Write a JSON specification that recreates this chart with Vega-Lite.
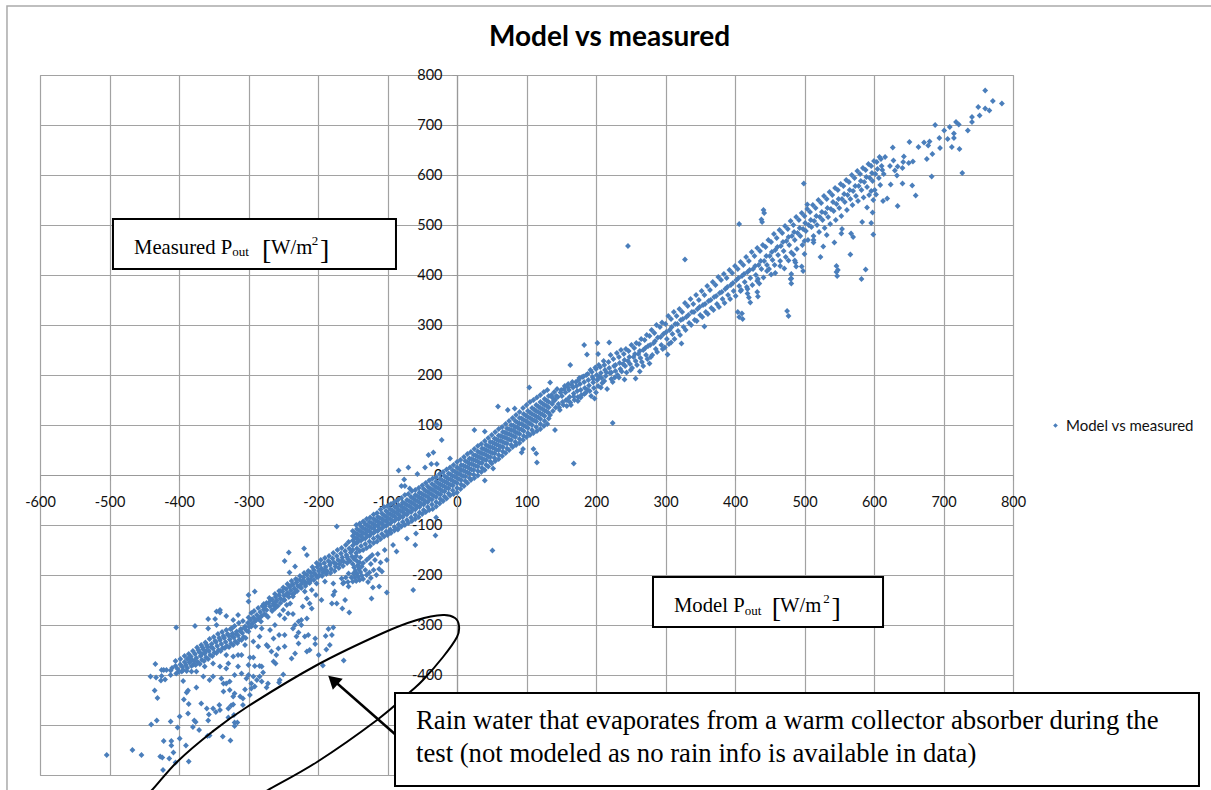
{"$schema":"https://vega.github.io/schema/vega-lite/v6.json","autosize":"none","width":973,"height":700,"padding":{"left":40,"top":75,"right":198,"bottom":15},"background":"white","config":{"view":{"stroke":"#a0a0a0"}},"title":{"text":"Model vs measured","font":"Lato","fontSize":28,"fontWeight":"bold","color":"#000000","anchor":"start","frame":"group","dx":449,"offset":0,"dy":47},
"layer":[
{"data":{"values":[{"x":-647.5,"x2":1100,"y":938,"y2":-660}]},"mark":{"type":"rect","fill":null,"stroke":"#aaaaaa","strokeWidth":1.5},"encoding":{"x":{"field":"x","type":"quantitative","title":null,"scale":{"domain":[-600,800],"nice":false,"zero":false},"axis":{"values":[-600,-500,-400,-300,-200,-100,0,100,200,300,400,500,600,700,800],"labelExpr":"'' + datum.value","offset":-300,"labelFont":"Lato","labelFontSize":14.5,"labelColor":"#111111","labelPadding":15,"labelFlush":false,"labelOverlap":false,"tickColor":"#999999","tickSize":5,"domainColor":"#999999","domainWidth":1.2,"grid":true,"gridColor":"#a2a2a2","gridWidth":1.2}},"x2":{"field":"x2"},"y":{"field":"y","type":"quantitative","title":null,"scale":{"domain":[-600,800],"nice":false,"zero":false},"axis":{"values":[-600,-500,-400,-300,-200,-100,0,100,200,300,400,500,600,700,800],"labelExpr":"'' + datum.value","offset":-417,"labelFont":"Lato","labelFontSize":14.5,"labelColor":"#111111","labelPadding":10,"labelOverlap":false,"tickColor":"#999999","tickSize":5,"domainColor":"#999999","domainWidth":1.2,"grid":true,"gridColor":"#a2a2a2","gridWidth":1.2}},"y2":{"field":"y2"}}},
{"data":{"values":[
{"x":-504,"y":-560},{"x":-467,"y":-550},{"x":-454,"y":-560},{"x":-423,"y":-590},{"x":-427,"y":-563},{"x":-424,"y":-565},{"x":-414,"y":-567},{"x":-408,"y":-555},{"x":-405,"y":-575},{"x":-386,"y":-573},{"x":-422,"y":-532},{"x":-411,"y":-532},{"x":-411,"y":-541},{"x":-399,"y":-527},{"x":-390,"y":-541},{"x":-440,"y":-499},{"x":-432,"y":-491},{"x":-412,"y":-493},{"x":-402,"y":-505},{"x":-399,"y":-483},{"x":-387,"y":-477},{"x":-380,"y":-504},{"x":-378,"y":-491},{"x":-376,"y":-494},{"x":-371,"y":-510},{"x":-359,"y":-522},{"x":-356,"y":-521},{"x":-337,"y":-523},{"x":-326,"y":-531},{"x":-358,"y":-491},{"x":-357,"y":-479},{"x":-360,"y":-467},{"x":-368,"y":-457},{"x":-351,"y":-467},{"x":-347,"y":-474},{"x":-342,"y":-460},{"x":-341,"y":-470},{"x":-329,"y":-467},{"x":-325,"y":-461},{"x":-322,"y":-459},{"x":-308,"y":-460},{"x":-321,"y":-480},{"x":-329,"y":-485},{"x":-320,"y":-495},{"x":-316,"y":-495},{"x":-320,"y":-502},{"x":-393,"y":-449},{"x":-386,"y":-458},{"x":-431,"y":-446},{"x":-435,"y":-431},{"x":-389,"y":-435},{"x":-387,"y":-431},{"x":-375,"y":-425},{"x":-394,"y":-412},{"x":-441,"y":-403},{"x":-433,"y":-405},{"x":-425,"y":-402},{"x":-426,"y":-411},{"x":-420,"y":-409},{"x":-434,"y":-378},{"x":-425,"y":-390},{"x":-422,"y":-390},{"x":-418,"y":-390},{"x":-412,"y":-391},{"x":-412,"y":-400},{"x":-404,"y":-305},{"x":-377,"y":-302},{"x":-358,"y":-288},{"x":-341,"y":-270},{"x":-346,"y":-273},{"x":-341,"y":-275},{"x":-348,"y":-288},{"x":-346,"y":-300},{"x":-358,"y":-307},{"x":-332,"y":-282},{"x":-322,"y":-290},{"x":-315,"y":-280},{"x":-324,"y":-307},
{"x":-242,"y":-155},{"x":-248,"y":-172},{"x":-220,"y":-147},{"x":-216,"y":-160},{"x":-233,"y":-183},{"x":-241,"y":-195},{"x":-300,"y":-240},{"x":-291,"y":-233},{"x":-300,"y":-253},{"x":-202,"y":-217},{"x":-190,"y":-213},{"x":-178,"y":-217},{"x":-176,"y":-233},{"x":-178,"y":-240},{"x":-180,"y":-257},{"x":-173,"y":-257},{"x":-161,"y":-250},{"x":-165,"y":-267},{"x":-155,"y":-275},{"x":-195,"y":-250},{"x":-203,"y":-240},{"x":-209,"y":-230},{"x":-219,"y":-233},{"x":-216,"y":-247},{"x":-212,"y":-257},{"x":-222,"y":-263},{"x":-209,"y":-267},{"x":-236,"y":-243},{"x":-240,"y":-257},{"x":-245,"y":-260},{"x":-236,"y":-278},{"x":-243,"y":-277},{"x":-250,"y":-270},{"x":-255,"y":-280},{"x":-248,"y":-287},{"x":-262,"y":-267},{"x":-264,"y":-260},{"x":-216,"y":-287},{"x":-224,"y":-290},{"x":-228,"y":-293},{"x":-233,"y":-300},{"x":-236,"y":-307},{"x":-224,"y":-300},{"x":-228,"y":-315},{"x":-231,"y":-323},{"x":-219,"y":-323},{"x":-214,"y":-320},{"x":-204,"y":-327},{"x":-204,"y":-338},{"x":-228,"y":-337},{"x":-216,"y":-353},{"x":-212,"y":-350},{"x":-238,"y":-367},{"x":-233,"y":-357},{"x":-248,"y":-343},{"x":-257,"y":-347},{"x":-267,"y":-353},{"x":-260,"y":-360},{"x":-264,"y":-373},{"x":-261,"y":-377},{"x":-248,"y":-320},{"x":-256,"y":-320},{"x":-264,"y":-327},{"x":-269,"y":-310},{"x":-262,"y":-300},{"x":-281,"y":-307},{"x":-284,"y":-323},{"x":-293,"y":-333},{"x":-286,"y":-343},{"x":-274,"y":-340},{"x":-272,"y":-343},{"x":-296,"y":-303},{"x":-300,"y":-313},{"x":-305,"y":-340},{"x":-185,"y":-308},{"x":-178,"y":-305},{"x":-189,"y":-322},{"x":-180,"y":-320},{"x":-183,"y":-340},{"x":-188,"y":-349},{"x":-199,"y":-360},{"x":-193,"y":-381},{"x":-163,"y":-371},{"x":-250,"y":-399},{"x":-255,"y":-410},{"x":-256,"y":-415},{"x":-274,"y":-425},{"x":-272,"y":-417},{"x":-281,"y":-383},{"x":-279,"y":-395},{"x":-284,"y":-403},{"x":-281,"y":-413},{"x":-288,"y":-410},{"x":-291,"y":-423},{"x":-296,"y":-427},{"x":-296,"y":-417},{"x":-293,"y":-403},{"x":-300,"y":-400},{"x":-310,"y":-397},{"x":-303,"y":-407},{"x":-300,"y":-380},{"x":-291,"y":-382},{"x":-284,"y":-382},{"x":-298,"y":-365},{"x":-293,"y":-365},{"x":-310,"y":-360},{"x":-315,"y":-360},{"x":-322,"y":-363},{"x":-332,"y":-360},{"x":-329,"y":-377},{"x":-332,"y":-387},{"x":-320,"y":-400},{"x":-315,"y":-383},{"x":-341,"y":-383},{"x":-351,"y":-377},{"x":-363,"y":-383},{"x":-365,"y":-403},{"x":-356,"y":-410},{"x":-351,"y":-403},{"x":-339,"y":-407},{"x":-336,"y":-417},{"x":-332,"y":-417},{"x":-327,"y":-413},{"x":-336,"y":-433},{"x":-327,"y":-430},{"x":-320,"y":-437},{"x":-312,"y":-443},{"x":-308,"y":-447},{"x":-298,"y":-440},{"x":-305,"y":-429},{"x":-322,"y":-443},{"x":-382,"y":-393},{"x":-375,"y":-393},{"x":-396,"y":-393},{"x":-389,"y":-392},{"x":-404,"y":-397},
{"x":-410,"y":-386},{"x":-405,"y":-382},{"x":-402,"y":-388},{"x":-398,"y":-379},{"x":-395,"y":-384},{"x":-392,"y":-374},{"x":-390,"y":-380},{"x":-388,"y":-368},{"x":-385,"y":-375},{"x":-383,"y":-363},{"x":-381,"y":-370},{"x":-379,"y":-379},{"x":-377,"y":-358},{"x":-375,"y":-366},{"x":-373,"y":-374},{"x":-371,"y":-354},{"x":-369,"y":-362},{"x":-367,"y":-370},{"x":-365,"y":-349},{"x":-363,"y":-357},{"x":-361,"y":-365},{"x":-359,"y":-344},{"x":-357,"y":-352},{"x":-355,"y":-360},{"x":-353,"y":-338},{"x":-351,"y":-347},{"x":-349,"y":-355},{"x":-347,"y":-334},{"x":-345,"y":-342},{"x":-343,"y":-350},{"x":-341,"y":-330},{"x":-339,"y":-338},{"x":-337,"y":-346},{"x":-335,"y":-326},{"x":-333,"y":-334},{"x":-331,"y":-342},{"x":-329,"y":-321},{"x":-327,"y":-329},{"x":-325,"y":-337},{"x":-323,"y":-317},{"x":-321,"y":-325},{"x":-319,"y":-333},{"x":-317,"y":-313},{"x":-315,"y":-321},{"x":-313,"y":-329},{"x":-311,"y":-308},{"x":-309,"y":-316},{"x":-307,"y":-324},{"x":-305,"y":-303},{"x":-303,"y":-311},{"x":-301,"y":-296},{"x":-299,"y":-304},{"x":-297,"y":-290},{"x":-295,"y":-298},{"x":-293,"y":-285},{"x":-291,"y":-293},{"x":-288,"y":-280},{"x":-286,"y":-288},{"x":-283,"y":-274},{"x":-281,"y":-282},{"x":-278,"y":-269},{"x":-276,"y":-262},{"x":-274,"y":-270},{"x":-271,"y":-256},{"x":-269,"y":-263},{"x":-266,"y":-249},{"x":-264,"y":-257},{"x":-261,"y":-244},{"x":-259,"y":-251},{"x":-256,"y":-240},{"x":-254,"y":-247},{"x":-251,"y":-233},{"x":-249,"y":-241},{"x":-246,"y":-228},{"x":-244,"y":-236},{"x":-241,"y":-224},{"x":-239,"y":-231},{"x":-236,"y":-219},{"x":-234,"y":-227},{"x":-231,"y":-215},{"x":-229,"y":-222},{"x":-226,"y":-210},{"x":-224,"y":-218},{"x":-221,"y":-205},{"x":-219,"y":-213},{"x":-216,"y":-200},{"x":-214,"y":-208},{"x":-211,"y":-195},{"x":-209,"y":-203},{"x":-206,"y":-190},{"x":-204,"y":-198},{"x":-201,"y":-184},{"x":-199,"y":-192},{"x":-197,"y":-179},{"x":-195,"y":-187},{"x":-193,"y":-195},{"x":-191,"y":-176},{"x":-189,"y":-184},{"x":-187,"y":-192},{"x":-185,"y":-172},{"x":-183,"y":-180},{"x":-181,"y":-188},{"x":-179,"y":-167},{"x":-177,"y":-175},{"x":-175,"y":-183},{"x":-173,"y":-162},{"x":-171,"y":-170},{"x":-169,"y":-178},{"x":-167,"y":-157},{"x":-165,"y":-165},{"x":-163,"y":-173},{"x":-161,"y":-152},{"x":-159,"y":-160},{"x":-157,"y":-168},{"x":-155,"y":-147},{"x":-153,"y":-155},{"x":-151,"y":-163},
{"x":-148,"y":-168},{"x":-150,"y":-178},{"x":-145,"y":-162},{"x":-144,"y":-172},{"x":-148,"y":-185},{"x":-143,"y":-181},{"x":-139,"y":-165},{"x":-140,"y":-175},{"x":-146,"y":-192},{"x":-141,"y":-188},{"x":-137,"y":-183},{"x":-149,"y":-197},{"x":-144,"y":-198},{"x":-139,"y":-194},{"x":-135,"y":-176},{"x":-152,"y":-205},{"x":-147,"y":-205},{"x":-142,"y":-204},{"x":-137,"y":-201},{"x":-132,"y":-190},{"x":-150,"y":-213},{"x":-145,"y":-212},{"x":-140,"y":-210},{"x":-135,"y":-208},{"x":-130,"y":-200},{"x":-156,"y":-197},{"x":-160,"y":-205},{"x":-157,"y":-214},{"x":-163,"y":-215},{"x":-166,"y":-207},{"x":-164,"y":-217},{"x":-156,"y":-223},{"x":-126,"y":-195},{"x":-124,"y":-206},{"x":-128,"y":-214},{"x":-120,"y":-190},{"x":-116,"y":-200},{"x":-112,"y":-188},{"x":-130,"y":-170},{"x":-126,"y":-165},{"x":-122,"y":-160},{"x":-118,"y":-170},{"x":-114,"y":-158},{"x":-124,"y":-178},{"x":-110,"y":-175},{"x":-108,"y":-193},{"x":-63,"y":-230},{"x":-101,"y":-235},{"x":-123,"y":-247},{"x":-121,"y":-225},{"x":-112,"y":-223},{"x":-87,"y":-153},{"x":-92,"y":-140},{"x":-60,"y":-140},
{"x":-29,"y":100},{"x":-22,"y":70},{"x":-41,"y":40},{"x":-34,"y":45},{"x":-46,"y":15},{"x":-37,"y":22},{"x":-29,"y":22},{"x":-84,"y":9},{"x":-70,"y":15},{"x":-57,"y":2},{"x":-76,"y":-9},{"x":-80,"y":-22},{"x":-75,"y":-22},{"x":-68,"y":-27},{"x":-10,"y":33},{"x":25,"y":90},{"x":40,"y":87},{"x":59,"y":137},{"x":73,"y":130},{"x":83,"y":133},{"x":104,"y":175},{"x":134,"y":185},{"x":52,"y":13},{"x":40,"y":-11},{"x":93,"y":45},{"x":110,"y":52},{"x":114,"y":43},{"x":115,"y":25},{"x":95,"y":52},{"x":168,"y":23},{"x":141,"y":90},{"x":51,"y":-151},{"x":-31,"y":-121},{"x":-30,"y":-85},{"x":-59,"y":-117},{"x":-72,"y":-127},{"x":-85,"y":-109},{"x":-97,"y":-113},{"x":-173,"y":-103},{"x":-104,"y":-150},{"x":-101,"y":-170},
{"x":-150,"y":-112},{"x":-150,"y":-122},{"x":-150,"y":-131},{"x":-150,"y":-141},{"x":-150,"y":-150},{"x":-144,"y":-108},{"x":-144,"y":-118},{"x":-144,"y":-127},{"x":-144,"y":-136},{"x":-144,"y":-147},{"x":-138,"y":-103},{"x":-138,"y":-113},{"x":-138,"y":-122},{"x":-138,"y":-131},{"x":-138,"y":-142},{"x":-132,"y":-98},{"x":-132,"y":-108},{"x":-132,"y":-117},{"x":-132,"y":-127},{"x":-132,"y":-138},{"x":-126,"y":-94},{"x":-126,"y":-104},{"x":-126,"y":-113},{"x":-126,"y":-122},{"x":-126,"y":-133},{"x":-120,"y":-88},{"x":-120,"y":-98},{"x":-120,"y":-107},{"x":-120,"y":-116},{"x":-120,"y":-127},{"x":-114,"y":-84},{"x":-114,"y":-93},{"x":-114,"y":-102},{"x":-114,"y":-112},{"x":-114,"y":-123},{"x":-108,"y":-77},{"x":-108,"y":-88},{"x":-108,"y":-97},{"x":-108,"y":-107},{"x":-108,"y":-118},{"x":-102,"y":-72},{"x":-102,"y":-83},{"x":-102,"y":-92},{"x":-102,"y":-102},{"x":-102,"y":-113},{"x":-96,"y":-68},{"x":-96,"y":-78},{"x":-96,"y":-88},{"x":-96,"y":-97},{"x":-96,"y":-109},{"x":-90,"y":-63},{"x":-90,"y":-74},{"x":-90,"y":-83},{"x":-90,"y":-92},{"x":-90,"y":-104},{"x":-84,"y":-60},{"x":-84,"y":-70},{"x":-84,"y":-79},{"x":-84,"y":-88},{"x":-84,"y":-99},{"x":-78,"y":-55},{"x":-78,"y":-65},{"x":-78,"y":-74},{"x":-78,"y":-84},{"x":-78,"y":-94},{"x":-72,"y":-50},{"x":-72,"y":-60},{"x":-72,"y":-70},{"x":-72,"y":-79},{"x":-72,"y":-90},{"x":-66,"y":-44},{"x":-66,"y":-55},{"x":-66,"y":-65},{"x":-66,"y":-74},{"x":-66,"y":-85},{"x":-60,"y":-40},{"x":-60,"y":-50},{"x":-60,"y":-60},{"x":-60,"y":-69},{"x":-60,"y":-80},{"x":-54,"y":-35},{"x":-54,"y":-45},{"x":-54,"y":-55},{"x":-54,"y":-64},{"x":-54,"y":-75},{"x":-48,"y":-28},{"x":-48,"y":-40},{"x":-48,"y":-50},{"x":-48,"y":-59},{"x":-48,"y":-70},{"x":-42,"y":-23},{"x":-42,"y":-34},{"x":-42,"y":-44},{"x":-42,"y":-54},{"x":-42,"y":-64},{"x":-36,"y":-18},{"x":-36,"y":-29},{"x":-36,"y":-39},{"x":-36,"y":-49},{"x":-36,"y":-59},{"x":-30,"y":-13},{"x":-30,"y":-24},{"x":-30,"y":-34},{"x":-30,"y":-44},{"x":-30,"y":-54},{"x":-24,"y":-8},{"x":-24,"y":-19},{"x":-24,"y":-29},{"x":-24,"y":-39},{"x":-24,"y":-48},{"x":-18,"y":-2},{"x":-18,"y":-13},{"x":-18,"y":-23},{"x":-18,"y":-33},{"x":-18,"y":-43},{"x":-12,"y":3},{"x":-12,"y":-8},{"x":-12,"y":-18},{"x":-12,"y":-27},{"x":-12,"y":-37},{"x":-6,"y":9},{"x":-6,"y":-2},{"x":-6,"y":-12},{"x":-6,"y":-21},{"x":-6,"y":-31},{"x":0,"y":15},{"x":0,"y":4},{"x":0,"y":-6},{"x":0,"y":-16},{"x":0,"y":-26},{"x":6,"y":20},{"x":6,"y":10},{"x":6,"y":0},{"x":6,"y":-10},{"x":6,"y":-19},{"x":12,"y":28},{"x":12,"y":17},{"x":12,"y":7},{"x":12,"y":-3},{"x":12,"y":-12},{"x":18,"y":33},{"x":18,"y":23},{"x":18,"y":13},{"x":18,"y":3},{"x":18,"y":-6},{"x":24,"y":40},{"x":24,"y":30},{"x":24,"y":20},{"x":24,"y":10},{"x":24,"y":1},{"x":30,"y":47},{"x":30,"y":37},{"x":30,"y":27},{"x":30,"y":17},{"x":30,"y":8},{"x":36,"y":53},{"x":36,"y":43},{"x":36,"y":33},{"x":36,"y":24},{"x":36,"y":14},{"x":42,"y":60},{"x":42,"y":50},{"x":42,"y":40},{"x":42,"y":30},{"x":42,"y":20},{"x":48,"y":66},{"x":48,"y":56},{"x":48,"y":46},{"x":48,"y":36},{"x":48,"y":27},{"x":54,"y":73},{"x":54,"y":63},{"x":54,"y":53},{"x":54,"y":43},{"x":54,"y":34},{"x":60,"y":79},{"x":60,"y":69},{"x":60,"y":59},{"x":60,"y":50},{"x":60,"y":40},{"x":66,"y":86},{"x":66,"y":76},{"x":66,"y":66},{"x":66,"y":56},{"x":66,"y":47},{"x":72,"y":93},{"x":72,"y":83},{"x":72,"y":73},{"x":72,"y":63},{"x":72,"y":53},{"x":78,"y":100},{"x":78,"y":90},{"x":78,"y":80},{"x":78,"y":70},{"x":78,"y":60},{"x":84,"y":108},{"x":84,"y":96},{"x":84,"y":86},{"x":84,"y":76},{"x":84,"y":66},{"x":90,"y":114},{"x":90,"y":103},{"x":90,"y":92},{"x":90,"y":82},{"x":90,"y":72},{"x":96,"y":122},{"x":96,"y":110},{"x":96,"y":99},{"x":96,"y":88},{"x":96,"y":78},{"x":102,"y":128},{"x":102,"y":116},{"x":102,"y":105},{"x":102,"y":94},{"x":102,"y":84},{"x":108,"y":134},{"x":108,"y":122},{"x":108,"y":111},{"x":108,"y":100},{"x":108,"y":90},{"x":114,"y":140},{"x":114,"y":128},{"x":114,"y":117},{"x":114,"y":107},{"x":114,"y":96},{"x":120,"y":146},{"x":120,"y":134},{"x":120,"y":123},{"x":120,"y":112},{"x":120,"y":102},{"x":126,"y":152},{"x":126,"y":140},{"x":126,"y":129},{"x":126,"y":118},{"x":126,"y":108},{"x":132,"y":158},{"x":132,"y":146},{"x":132,"y":135},{"x":132,"y":124},{"x":132,"y":113},
{"x":-147,"y":-116},{"x":-147,"y":-126},{"x":-147,"y":-136},{"x":-141,"y":-111},{"x":-141,"y":-121},{"x":-141,"y":-131},{"x":-135,"y":-106},{"x":-135,"y":-116},{"x":-135,"y":-127},{"x":-129,"y":-101},{"x":-129,"y":-111},{"x":-129,"y":-122},{"x":-123,"y":-96},{"x":-123,"y":-106},{"x":-123,"y":-117},{"x":-117,"y":-91},{"x":-117,"y":-101},{"x":-117,"y":-112},{"x":-111,"y":-86},{"x":-111,"y":-96},{"x":-111,"y":-107},{"x":-105,"y":-81},{"x":-105,"y":-91},{"x":-105,"y":-102},{"x":-99,"y":-76},{"x":-99,"y":-86},{"x":-99,"y":-97},{"x":-93,"y":-71},{"x":-93,"y":-81},{"x":-93,"y":-92},{"x":-87,"y":-66},{"x":-87,"y":-76},{"x":-87,"y":-87},{"x":-81,"y":-62},{"x":-81,"y":-72},{"x":-81,"y":-83},{"x":-75,"y":-57},{"x":-75,"y":-67},{"x":-75,"y":-78},{"x":-69,"y":-52},{"x":-69,"y":-62},{"x":-69,"y":-73},{"x":-63,"y":-47},{"x":-63,"y":-57},{"x":-63,"y":-68},{"x":-57,"y":-42},{"x":-57,"y":-52},{"x":-57,"y":-63},{"x":-51,"y":-37},{"x":-51,"y":-47},{"x":-51,"y":-58},{"x":-45,"y":-32},{"x":-45,"y":-42},{"x":-45,"y":-53},{"x":-39,"y":-27},{"x":-39,"y":-37},{"x":-39,"y":-48},{"x":-33,"y":-21},{"x":-33,"y":-31},{"x":-33,"y":-42},{"x":-27,"y":-16},{"x":-27,"y":-26},{"x":-27,"y":-37},{"x":-21,"y":-11},{"x":-21,"y":-21},{"x":-21,"y":-32},{"x":-15,"y":-5},{"x":-15,"y":-15},{"x":-15,"y":-26},{"x":-9,"y":1},{"x":-9,"y":-9},{"x":-9,"y":-20},{"x":-3,"y":7},{"x":-3,"y":-3},{"x":-3,"y":-14},{"x":3,"y":13},{"x":3,"y":3},{"x":3,"y":-8},{"x":9,"y":19},{"x":9,"y":9},{"x":9,"y":-2},{"x":15,"y":26},{"x":15,"y":16},{"x":15,"y":5},{"x":21,"y":32},{"x":21,"y":22},{"x":21,"y":11},{"x":27,"y":39},{"x":27,"y":29},{"x":27,"y":18},{"x":33,"y":45},{"x":33,"y":35},{"x":33,"y":24},{"x":39,"y":52},{"x":39,"y":42},{"x":39,"y":31},{"x":45,"y":58},{"x":45,"y":48},{"x":45,"y":37},{"x":51,"y":65},{"x":51,"y":55},{"x":51,"y":44},{"x":57,"y":71},{"x":57,"y":61},{"x":57,"y":50},{"x":63,"y":78},{"x":63,"y":68},{"x":63,"y":57},{"x":69,"y":85},{"x":69,"y":75},{"x":69,"y":64},{"x":75,"y":92},{"x":75,"y":82},{"x":75,"y":71},{"x":81,"y":99},{"x":81,"y":89},{"x":81,"y":78},{"x":87,"y":105},{"x":87,"y":95},{"x":87,"y":84},{"x":93,"y":113},{"x":93,"y":102},{"x":93,"y":91},{"x":99,"y":119},{"x":99,"y":108},{"x":99,"y":97},{"x":105,"y":125},{"x":105,"y":114},{"x":105,"y":103},{"x":111,"y":131},{"x":111,"y":120},{"x":111,"y":109},{"x":117,"y":137},{"x":117,"y":126},{"x":117,"y":115},{"x":123,"y":143},{"x":123,"y":132},{"x":123,"y":121},{"x":129,"y":149},{"x":129,"y":138},{"x":129,"y":127},
{"x":136,"y":160},{"x":137,"y":142},{"x":138,"y":128},{"x":140,"y":166},{"x":141,"y":150},{"x":142,"y":135},{"x":144,"y":172},{"x":145,"y":156},{"x":146,"y":142},{"x":148,"y":130},{"x":150,"y":170},{"x":151,"y":158},{"x":152,"y":146},{"x":155,"y":178},{"x":156,"y":165},{"x":157,"y":150},{"x":158,"y":138},{"x":160,"y":182},{"x":161,"y":170},{"x":162,"y":156},{"x":163,"y":145},{"x":166,"y":186},{"x":167,"y":175},{"x":168,"y":163},{"x":169,"y":150},{"x":172,"y":178},{"x":173,"y":168},{"x":174,"y":156},{"x":176,"y":194},{"x":177,"y":182},{"x":178,"y":170},{"x":179,"y":160},{"x":182,"y":197},{"x":183,"y":186},{"x":184,"y":174},{"x":185,"y":164},{"x":188,"y":202},{"x":189,"y":190},{"x":190,"y":179},{"x":191,"y":168},{"x":194,"y":206},{"x":195,"y":196},{"x":196,"y":185},{"x":197,"y":174},{"x":200,"y":212},{"x":201,"y":200},{"x":202,"y":190},{"x":203,"y":178},{"x":198,"y":153},{"x":206,"y":216},{"x":207,"y":204},{"x":208,"y":194},{"x":209,"y":184},{"x":212,"y":220},{"x":213,"y":210},{"x":214,"y":198},{"x":218,"y":226},{"x":219,"y":214},{"x":220,"y":204},{"x":222,"y":192},{"x":225,"y":232},{"x":226,"y":218},{"x":227,"y":195},{"x":228,"y":208},{"x":233,"y":195},{"x":233,"y":236},{"x":234,"y":224},{"x":235,"y":212},{"x":241,"y":191},{"x":240,"y":242},{"x":241,"y":230},{"x":242,"y":218},{"x":247,"y":248},{"x":248,"y":236},{"x":249,"y":222},{"x":250,"y":210},{"x":255,"y":254},{"x":256,"y":242},{"x":257,"y":228},{"x":257,"y":193},{"x":262,"y":262},{"x":263,"y":248},{"x":264,"y":234},{"x":263,"y":207},{"x":270,"y":270},{"x":271,"y":254},{"x":272,"y":240},{"x":268,"y":218},{"x":277,"y":278},{"x":278,"y":260},{"x":279,"y":236},{"x":277,"y":223},{"x":284,"y":284},{"x":285,"y":268},{"x":286,"y":252},{"x":292,"y":296},{"x":293,"y":276},{"x":294,"y":260},{"x":299,"y":255},{"x":300,"y":302},{"x":301,"y":286},{"x":302,"y":272},{"x":303,"y":241},{"x":308,"y":265},{"x":308,"y":312},{"x":309,"y":296},{"x":310,"y":282},{"x":316,"y":318},{"x":317,"y":302},{"x":318,"y":288},{"x":323,"y":263},{"x":324,"y":326},{"x":325,"y":312},{"x":326,"y":296},{"x":332,"y":338},{"x":333,"y":320},{"x":334,"y":304},{"x":340,"y":342},{"x":341,"y":326},{"x":342,"y":310},{"x":348,"y":350},{"x":349,"y":336},{"x":350,"y":320},{"x":356,"y":297},{"x":356,"y":360},{"x":357,"y":342},{"x":358,"y":326},{"x":364,"y":370},{"x":365,"y":350},{"x":366,"y":334},{"x":372,"y":380},{"x":373,"y":358},{"x":374,"y":342},{"x":380,"y":390},{"x":381,"y":366},{"x":382,"y":352},{"x":388,"y":394},{"x":389,"y":376},{"x":390,"y":360},{"x":396,"y":404},{"x":397,"y":384},{"x":398,"y":368},{"x":404,"y":412},{"x":405,"y":394},{"x":406,"y":378},{"x":412,"y":420},{"x":413,"y":402},{"x":414,"y":386},{"x":420,"y":355},{"x":420,"y":428},{"x":421,"y":410},{"x":422,"y":394},{"x":428,"y":438},{"x":429,"y":418},{"x":430,"y":400},{"x":436,"y":448},{"x":437,"y":428},{"x":438,"y":412},{"x":444,"y":456},{"x":445,"y":438},{"x":446,"y":420},{"x":452,"y":466},{"x":453,"y":446},{"x":454,"y":430},{"x":460,"y":474},{"x":461,"y":456},{"x":462,"y":440},{"x":468,"y":484},{"x":469,"y":466},{"x":470,"y":448},{"x":476,"y":492},{"x":477,"y":476},{"x":478,"y":460},{"x":484,"y":500},{"x":485,"y":486},{"x":486,"y":470},{"x":492,"y":510},{"x":493,"y":494},{"x":494,"y":478},{"x":500,"y":518},{"x":501,"y":504},{"x":502,"y":488},{"x":508,"y":526},{"x":509,"y":510},{"x":510,"y":496},{"x":516,"y":534},{"x":517,"y":518},{"x":518,"y":500},{"x":524,"y":544},{"x":525,"y":526},{"x":526,"y":510},{"x":532,"y":552},{"x":533,"y":534},{"x":534,"y":516},{"x":540,"y":560},{"x":541,"y":546},{"x":542,"y":528},{"x":548,"y":570},{"x":549,"y":552},{"x":550,"y":534},{"x":556,"y":578},{"x":557,"y":562},{"x":558,"y":546},{"x":564,"y":586},{"x":565,"y":570},{"x":566,"y":552},{"x":572,"y":594},{"x":573,"y":578},{"x":574,"y":558},{"x":580,"y":602},{"x":581,"y":588},{"x":582,"y":570},{"x":588,"y":610},{"x":589,"y":596},{"x":590,"y":576},{"x":596,"y":618},{"x":597,"y":604},{"x":598,"y":588},{"x":604,"y":626},{"x":605,"y":612},{"x":610,"y":632},{"x":611,"y":618},{"x":616,"y":636},
{"x":760,"y":769},{"x":771,"y":748},{"x":784,"y":743},{"x":750,"y":736},{"x":760,"y":733},{"x":766,"y":729},{"x":752,"y":719},{"x":741,"y":716},{"x":741,"y":706},{"x":718,"y":706},{"x":722,"y":701},{"x":688,"y":700},{"x":709,"y":696},{"x":701,"y":689},{"x":735,"y":689},{"x":715,"y":683},{"x":694,"y":674},{"x":715,"y":674},{"x":706,"y":672},{"x":680,"y":667},{"x":672,"y":665},{"x":651,"y":666},{"x":664,"y":656},{"x":678,"y":659},{"x":695,"y":654},{"x":712,"y":656},{"x":723,"y":652},{"x":684,"y":642},{"x":676,"y":632},{"x":727,"y":604},{"x":683,"y":597},{"x":627,"y":655},{"x":643,"y":637},{"x":642,"y":626},{"x":656,"y":627},{"x":650,"y":624},{"x":641,"y":614},{"x":634,"y":617},{"x":623,"y":618},{"x":628,"y":629},{"x":630,"y":609},{"x":633,"y":599},{"x":614,"y":602},{"x":607,"y":594},{"x":624,"y":581},{"x":641,"y":583},{"x":655,"y":579},{"x":660,"y":559},{"x":619,"y":553},{"x":613,"y":548},{"x":634,"y":538},{"x":603,"y":561},{"x":596,"y":568},{"x":599,"y":550},{"x":598,"y":525},{"x":590,"y":535},{"x":583,"y":506},{"x":596,"y":504},{"x":599,"y":481},{"x":566,"y":441},{"x":588,"y":411},{"x":582,"y":392},{"x":547,"y":398},{"x":548,"y":410},{"x":523,"y":436},{"x":527,"y":457},{"x":543,"y":465},{"x":499,"y":583},{"x":504,"y":541},{"x":500,"y":442},{"x":498,"y":408},{"x":481,"y":393},{"x":481,"y":383},{"x":488,"y":417},{"x":484,"y":441},{"x":486,"y":429},{"x":477,"y":429},{"x":465,"y":418},{"x":471,"y":413},{"x":458,"y":404},{"x":452,"y":401},{"x":446,"y":408},{"x":442,"y":524},{"x":439,"y":506},{"x":406,"y":502},{"x":328,"y":431},{"x":246,"y":458},{"x":477,"y":318},{"x":406,"y":316},{"x":411,"y":312},{"x":422,"y":345},{"x":433,"y":357},{"x":418,"y":363},{"x":408,"y":368},{"x":435,"y":383},{"x":432,"y":388},{"x":567,"y":483},{"x":570,"y":476},{"x":553,"y":483},{"x":554,"y":492},{"x":532,"y":480},{"x":513,"y":470},{"x":513,"y":465},{"x":500,"y":468},{"x":404,"y":326},{"x":410,"y":323},{"x":475,"y":328},{"x":441,"y":530},{"x":438,"y":511},{"x":183,"y":260},{"x":202,"y":264},{"x":187,"y":241},{"x":163,"y":220},{"x":203,"y":242},{"x":219,"y":265},{"x":224,"y":104},{"x":432,"y":366},{"x":418,"y":372},{"x":496,"y":417},{"x":487,"y":425},{"x":480,"y":392},{"x":481,"y":402},{"x":546,"y":418},{"x":546,"y":406},
{"x":134,"y":120},{"x":137,"y":155},{"x":139,"y":148},{"x":143,"y":158},{"x":147,"y":135},{"x":149,"y":165},{"x":153,"y":140},{"x":154,"y":172},{"x":159,"y":150},{"x":160,"y":175},{"x":164,"y":140},{"x":165,"y":180},{"x":168,"y":157},{"x":171,"y":186},{"x":174,"y":148},{"x":175,"y":190},{"x":178,"y":155},{"x":180,"y":196},{"x":183,"y":162},{"x":186,"y":200},{"x":188,"y":170},{"x":192,"y":210},{"x":193,"y":158},{"x":196,"y":192},{"x":199,"y":215},{"x":200,"y":165},{"x":204,"y":220},{"x":205,"y":196},{"x":207,"y":175},{"x":211,"y":228},{"x":212,"y":188},{"x":215,"y":205},{"x":216,"y":172},
{"x":221,"y":240},{"x":222,"y":205},{"x":224,"y":186},{"x":228,"y":220},{"x":230,"y":244},{"x":231,"y":200},{"x":236,"y":250},{"x":237,"y":207},{"x":239,"y":222},{"x":243,"y":252},{"x":244,"y":205},{"x":246,"y":228},{"x":251,"y":260},{"x":252,"y":214},{"x":254,"y":236},{"x":258,"y":264},{"x":259,"y":220},{"x":261,"y":242},{"x":265,"y":272},{"x":266,"y":226},{"x":268,"y":250},{"x":273,"y":280},{"x":274,"y":232},{"x":275,"y":258},{"x":280,"y":290},{"x":281,"y":240},{"x":283,"y":264},{"x":287,"y":300},{"x":288,"y":246},{"x":289,"y":275},{"x":295,"y":305},{"x":296,"y":252},{"x":297,"y":282},{"x":304,"y":318},{"x":305,"y":262},{"x":306,"y":290},{"x":312,"y":326},{"x":313,"y":272},{"x":314,"y":302},{"x":320,"y":332},{"x":321,"y":280},{"x":322,"y":310},{"x":328,"y":344},{"x":329,"y":290},{"x":330,"y":316},
{"x":336,"y":352},{"x":337,"y":300},{"x":338,"y":326},{"x":344,"y":360},{"x":345,"y":308},{"x":346,"y":332},{"x":352,"y":368},{"x":353,"y":316},{"x":354,"y":340},{"x":360,"y":378},{"x":361,"y":322},{"x":362,"y":348},{"x":368,"y":386},{"x":369,"y":330},{"x":370,"y":356},{"x":376,"y":396},{"x":377,"y":336},{"x":378,"y":364},{"x":384,"y":402},{"x":385,"y":344},{"x":386,"y":372},{"x":392,"y":410},{"x":393,"y":352},{"x":394,"y":380},{"x":400,"y":418},{"x":401,"y":358},{"x":402,"y":390},{"x":408,"y":426},{"x":409,"y":370},{"x":410,"y":398},{"x":416,"y":436},{"x":417,"y":376},{"x":418,"y":406},{"x":424,"y":446},{"x":425,"y":380},{"x":426,"y":412},{"x":432,"y":454},{"x":433,"y":392},{"x":434,"y":420},{"x":440,"y":460},{"x":441,"y":395},{"x":442,"y":428},{"x":448,"y":470},{"x":449,"y":412},{"x":450,"y":438},{"x":456,"y":482},{"x":457,"y":420},{"x":458,"y":450},{"x":464,"y":490},{"x":465,"y":428},{"x":466,"y":458},{"x":472,"y":498},{"x":473,"y":436},{"x":474,"y":468},{"x":480,"y":508},{"x":481,"y":445},{"x":482,"y":478},{"x":488,"y":516},{"x":489,"y":452},{"x":490,"y":484},{"x":496,"y":524},{"x":497,"y":460},{"x":498,"y":492},{"x":504,"y":532},{"x":505,"y":470},{"x":506,"y":500},{"x":512,"y":540},{"x":513,"y":478},{"x":514,"y":508},{"x":520,"y":550},{"x":521,"y":486},{"x":522,"y":516},{"x":528,"y":558},{"x":529,"y":494},{"x":530,"y":524},{"x":536,"y":566},{"x":537,"y":502},{"x":538,"y":532},{"x":544,"y":574},{"x":545,"y":510},{"x":546,"y":542},{"x":552,"y":582},{"x":553,"y":518},{"x":554,"y":552},{"x":560,"y":590},{"x":561,"y":530},{"x":562,"y":560},{"x":568,"y":600},{"x":569,"y":540},{"x":570,"y":568},{"x":576,"y":608},{"x":577,"y":548},{"x":578,"y":578},{"x":584,"y":614},{"x":585,"y":555},{"x":586,"y":586},{"x":592,"y":622},{"x":593,"y":560},{"x":594,"y":594},{"x":600,"y":628},{"x":601,"y":570},{"x":602,"y":602},{"x":608,"y":636},{"x":609,"y":580},{"x":612,"y":610},
{"x":-300,"y":-285},{"x":-296,"y":-276},{"x":-292,"y":-272},{"x":-289,"y":-290},{"x":-286,"y":-266},{"x":-283,"y":-284},{"x":-280,"y":-262},{"x":-277,"y":-278},{"x":-274,"y":-256},{"x":-272,"y":-284},{"x":-268,"y":-250},{"x":-266,"y":-270},{"x":-262,"y":-238},{"x":-260,"y":-262},{"x":-256,"y":-232},{"x":-254,"y":-256},{"x":-250,"y":-225},{"x":-248,"y":-250},{"x":-244,"y":-218},{"x":-242,"y":-244},{"x":-238,"y":-212},{"x":-236,"y":-238},{"x":-232,"y":-208},{"x":-230,"y":-232},{"x":-226,"y":-202},{"x":-224,"y":-226},{"x":-220,"y":-196},{"x":-218,"y":-222},{"x":-214,"y":-192},{"x":-212,"y":-216},{"x":-208,"y":-184},{"x":-206,"y":-210},{"x":-202,"y":-176},{"x":-200,"y":-204},{"x":-196,"y":-170},{"x":-194,"y":-202},{"x":-190,"y":-166},{"x":-188,"y":-198},{"x":-184,"y":-162},{"x":-182,"y":-196},{"x":-178,"y":-156},{"x":-176,"y":-192},{"x":-172,"y":-150},{"x":-170,"y":-186},{"x":-166,"y":-146},{"x":-164,"y":-182},{"x":-160,"y":-140},{"x":-158,"y":-176},{"x":-156,"y":-134},{"x":-154,"y":-172},{"x":-290,"y":-303},{"x":-282,"y":-293},{"x":-274,"y":-281},{"x":-266,"y":-272},{"x":-258,"y":-262},{"x":-250,"y":-250},{"x":-242,"y":-238},{"x":-234,"y":-236},{"x":-226,"y":-224},{"x":-218,"y":-218},{"x":-210,"y":-210},{"x":-202,"y":-204},{"x":-278,"y":-258},{"x":-270,"y":-246},{"x":-262,"y":-255},{"x":-254,"y":-232},{"x":-246,"y":-240},{"x":-238,"y":-220},{"x":-230,"y":-210},{"x":-222,"y":-212},{"x":-214,"y":-214},{"x":-206,"y":-196},{"x":-198,"y":-200},{"x":-190,"y":-190},{"x":-182,"y":-176},{"x":-174,"y":-178},{"x":-166,"y":-172},{"x":-158,"y":-164},
{"x":-405,"y":-372},{"x":-398,"y":-368},{"x":-392,"y":-362},{"x":-386,"y":-358},{"x":-380,"y":-352},{"x":-374,"y":-345},{"x":-368,"y":-340},{"x":-362,"y":-335},{"x":-356,"y":-328},{"x":-350,"y":-324},{"x":-344,"y":-318},{"x":-338,"y":-314},{"x":-332,"y":-310},{"x":-326,"y":-308},{"x":-320,"y":-302},{"x":-314,"y":-296},{"x":-308,"y":-292},{"x":-400,"y":-394},{"x":-394,"y":-390},{"x":-388,"y":-386},{"x":-382,"y":-382},{"x":-376,"y":-380},{"x":-370,"y":-378},{"x":-364,"y":-372},{"x":-358,"y":-368},{"x":-352,"y":-362},{"x":-346,"y":-356},{"x":-340,"y":-352},{"x":-334,"y":-346},{"x":-328,"y":-344},{"x":-322,"y":-340},{"x":-316,"y":-336},{"x":-310,"y":-330},{"x":-304,"y":-326},{"x":-372,"y":-350},{"x":-366,"y":-345},{"x":-360,"y":-340},{"x":-354,"y":-344},{"x":-348,"y":-332},{"x":-342,"y":-326},{"x":-336,"y":-322},{"x":-330,"y":-318},{"x":-324,"y":-322},{"x":-318,"y":-318},{"x":-312,"y":-312},{"x":-306,"y":-306},{"x":-385,"y":-365},{"x":-378,"y":-372},{"x":-383,"y":-372},{"x":-367,"y":-358},{"x":-361,"y":-352},
{"x":-145,"y":-100},{"x":-140,"y":-97},{"x":-135,"y":-93},{"x":-130,"y":-88},{"x":-125,"y":-85},{"x":-120,"y":-79},{"x":-115,"y":-76},{"x":-110,"y":-69},{"x":-105,"y":-64},{"x":-100,"y":-62},{"x":-95,"y":-58},{"x":-90,"y":-54},{"x":-85,"y":-50},{"x":-80,"y":-46},{"x":-75,"y":-40},{"x":-70,"y":-38},{"x":-65,"y":-32},{"x":-60,"y":-30},{"x":-55,"y":-26},{"x":-50,"y":-21},{"x":-45,"y":-16},{"x":-40,"y":-11},{"x":-35,"y":-7},{"x":-30,"y":-4},{"x":-25,"y":2},{"x":-20,"y":6},{"x":-15,"y":11},{"x":-10,"y":15},{"x":-5,"y":20},{"x":0,"y":26},{"x":5,"y":30},{"x":10,"y":36},{"x":15,"y":42},{"x":20,"y":46},{"x":25,"y":52},{"x":30,"y":58},{"x":35,"y":62},{"x":40,"y":68},{"x":45,"y":74},{"x":50,"y":80},{"x":55,"y":86},{"x":60,"y":92},{"x":65,"y":96},{"x":70,"y":102},{"x":75,"y":108},{"x":80,"y":114},{"x":85,"y":120},{"x":90,"y":126},{"x":95,"y":134},{"x":100,"y":140},{"x":105,"y":146},{"x":110,"y":150},{"x":115,"y":155},{"x":120,"y":160},{"x":125,"y":166},{"x":130,"y":170},
{"x":-145,"y":-156},{"x":-140,"y":-152},{"x":-135,"y":-150},{"x":-130,"y":-146},{"x":-125,"y":-142},{"x":-120,"y":-136},{"x":-115,"y":-133},{"x":-110,"y":-128},{"x":-105,"y":-123},{"x":-100,"y":-120},{"x":-95,"y":-116},{"x":-90,"y":-111},{"x":-85,"y":-107},{"x":-80,"y":-103},{"x":-75,"y":-100},{"x":-70,"y":-96},{"x":-65,"y":-92},{"x":-60,"y":-88},{"x":-55,"y":-84},{"x":-50,"y":-78},{"x":-45,"y":-74},{"x":-40,"y":-70},{"x":-35,"y":-68},{"x":-30,"y":-63},{"x":-25,"y":-57},{"x":-20,"y":-52},{"x":-15,"y":-47},{"x":-10,"y":-41},{"x":-5,"y":-38},{"x":0,"y":-35},{"x":5,"y":-28},{"x":10,"y":-22},{"x":15,"y":-16},{"x":20,"y":-10},{"x":25,"y":-6},{"x":30,"y":-1},{"x":35,"y":6},{"x":40,"y":10},{"x":45,"y":17},{"x":50,"y":23},{"x":55,"y":28},{"x":60,"y":32},{"x":65,"y":38},{"x":70,"y":44},{"x":75,"y":50},{"x":80,"y":56},{"x":85,"y":60},{"x":90,"y":64},{"x":95,"y":70},{"x":100,"y":76},{"x":105,"y":80},{"x":110,"y":84},{"x":115,"y":88},{"x":120,"y":92},{"x":125,"y":98},{"x":130,"y":102}
]},"mark":{"type":"point","shape":"diamond","filled":true,"size":34,"opacity":1},"encoding":{"x":{"field":"x","type":"quantitative"},"y":{"field":"y","type":"quantitative"},"color":{"datum":"Model vs measured","scale":{"range":["#4a7ebb"]},"legend":{"title":null,"orient":"none","legendX":1008,"legendY":343,"labelFont":"Lato","labelFontSize":15,"labelColor":"#111111","symbolSize":22,"labelOffset":3}}}},
{"data":{"values":[{"i":1,"x":-456,"y":-650},{"i":2,"x":-438.8,"y":-630},{"i":3,"x":-402.9,"y":-574},{"i":4,"x":-352.5,"y":-514},{"i":5,"x":-302.2,"y":-464},{"i":6,"x":-201.4,"y":-380},{"i":7,"x":-106.5,"y":-316},{"i":8,"x":-57.6,"y":-290},{"i":9,"x":-20.1,"y":-280},{"i":10,"x":-2.9,"y":-286},{"i":11,"x":2.9,"y":-302},{"i":12,"x":0,"y":-324},{"i":13,"x":-20.1,"y":-364},{"i":14,"x":-48.9,"y":-410},{"i":15,"x":-67.6,"y":-434},{"i":16,"x":-115,"y":-490},{"i":17,"x":-201.4,"y":-574},{"i":18,"x":-272,"y":-630},{"i":19,"x":-298,"y":-650}]},"mark":{"type":"line","interpolate":"cardinal","color":"#000000","strokeWidth":2},"encoding":{"x":{"field":"x","type":"quantitative"},"y":{"field":"y","type":"quantitative"},"order":{"field":"i"}}},
{"data":{"values":[{"i":1,"x":-87.8,"y":-520},{"i":2,"x":-178,"y":-410}]},"mark":{"type":"line","color":"#000000","strokeWidth":2.5},"encoding":{"x":{"field":"x","type":"quantitative"},"y":{"field":"y","type":"quantitative"},"order":{"field":"i"}}},
{"data":{"values":[{"x":-178.4,"y":-410}]},"mark":{"type":"point","shape":"triangle-up","filled":true,"color":"#000000","size":220,"angle":312,"opacity":1},"encoding":{"x":{"field":"x","type":"quantitative"},"y":{"field":"y","type":"quantitative"}}},
{"data":{"values":[{"x":-495,"x2":-87.8,"y":512,"y2":412},{"x":282,"x2":613,"y":-204,"y2":-304},{"x":-89.2,"x2":1067.6,"y":-436,"y2":-622}]},"mark":{"type":"rect","fill":"#ffffff","stroke":"#000000","strokeWidth":2},"encoding":{"x":{"field":"x","type":"quantitative"},"x2":{"field":"x2"},"y":{"field":"y","type":"quantitative"},"y2":{"field":"y2"}}},
{"data":{"values":[{"t":"Measured P","x":-464.7,"y":442},{"t":"W/m","x":-267.5,"y":442},{"t":"Model P","x":312.2,"y":-274},{"t":"W/m","x":464.7,"y":-274}]},"mark":{"type":"text","font":"Liberation Serif","fontSize":20.7,"align":"left","baseline":"alphabetic","color":"#000000"},"encoding":{"x":{"field":"x","type":"quantitative"},"y":{"field":"y","type":"quantitative"},"text":{"field":"t"}}},
{"data":{"values":[{"t":"out","x":-323.5,"y":438},{"t":"2","x":-209,"y":460},{"t":"out","x":414,"y":-280},{"t":"2","x":527,"y":-256}]},"mark":{"type":"text","font":"Liberation Serif","fontSize":13,"align":"left","baseline":"alphabetic","color":"#000000"},"encoding":{"x":{"field":"x","type":"quantitative"},"y":{"field":"y","type":"quantitative"},"text":{"field":"t"}}},
{"data":{"values":[{"t":"[","x":-280.6,"y":432},{"t":"]","x":-197,"y":432},{"t":"[","x":453,"y":-284},{"t":"]","x":539,"y":-284}]},"mark":{"type":"text","font":"Liberation Serif","fontSize":28,"align":"left","baseline":"alphabetic","color":"#000000"},"encoding":{"x":{"field":"x","type":"quantitative"},"y":{"field":"y","type":"quantitative"},"text":{"field":"t"}}},
{"data":{"values":[{"t":"Rain water that evaporates from a warm collector absorber during the","x":-59,"y":-508},{"t":"test (not modeled as no rain info is available in data)","x":-59,"y":-574}]},"mark":{"type":"text","font":"Liberation Serif","fontSize":26.7,"align":"left","baseline":"alphabetic","color":"#000000"},"encoding":{"x":{"field":"x","type":"quantitative"},"y":{"field":"y","type":"quantitative"},"text":{"field":"t"}}}
]}
